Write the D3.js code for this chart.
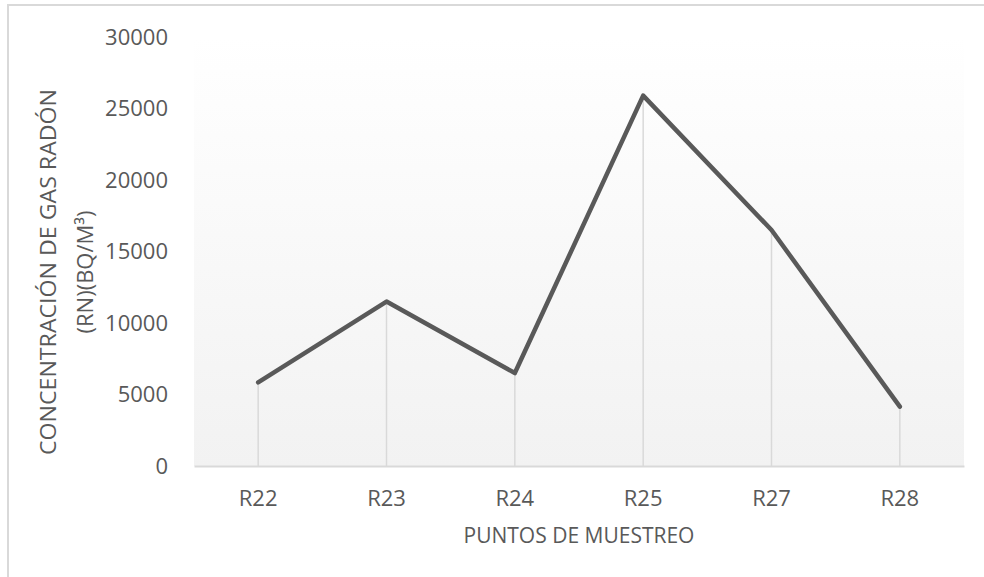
<!DOCTYPE html>
<html>
<head>
<meta charset="utf-8">
<script src="https://cdn.jsdelivr.net/npm/d3@7"></script>
<style>
  body { margin: 0; background: #fff; }
  svg { display: block; font-family: "Open Sans", sans-serif; }
</style>
</head>
<body>
<div id="chart"></div>
<script>
var categories = ['R22', 'R23', 'R24', 'R25', 'R27', 'R28'];
var values = [5850, 11500, 6500, 25900, 16500, 4150];
var yTicks = [0, 5000, 10000, 15000, 20000, 25000, 30000];

var width = 984, height = 577;
var margin = { left: 194, right: 20, top: 37, bottom: 111 };
var textColor = '#595959';

var svg = d3.select('#chart').append('svg')
  .attr('width', width)
  .attr('height', height);

// chart border (cropped on the right and bottom)
svg.append('rect')
  .attr('x', 8).attr('y', 5)
  .attr('width', 1000).attr('height', 600)
  .attr('fill', 'none')
  .attr('stroke', '#d9d9d9')
  .attr('stroke-width', 2);

var x = d3.scaleBand()
  .domain(categories)
  .range([margin.left, width - margin.right]);

var y = d3.scaleLinear()
  .domain([0, 30000])
  .range([height - margin.bottom, margin.top]);

var grad = svg.append('defs').append('linearGradient')
  .attr('id', 'plotbg')
  .attr('x1', 0).attr('y1', 0).attr('x2', 0).attr('y2', 1);
grad.append('stop').attr('offset', '0%').attr('stop-color', '#ffffff');
grad.append('stop').attr('offset', '100%').attr('stop-color', '#f2f2f2');

svg.append('rect')
  .attr('x', margin.left).attr('y', margin.top)
  .attr('width', width - margin.right - margin.left)
  .attr('height', y(0) - margin.top)
  .attr('fill', 'url(#plotbg)');

// drop lines
svg.selectAll('.drop')
  .data(values)
  .enter().append('line')
  .attr('x1', function(d, i) { return x(categories[i]) + x.bandwidth() / 2; })
  .attr('x2', function(d, i) { return x(categories[i]) + x.bandwidth() / 2; })
  .attr('y1', function(d) { return y(d); })
  .attr('y2', y(0))
  .attr('stroke', '#d9d9d9')
  .attr('stroke-width', 1.5);

// x axis
var xAxis = svg.append('g')
  .attr('transform', 'translate(0,' + y(0) + ')')
  .call(d3.axisBottom(x).tickSize(0).tickPadding(24));
xAxis.select('.domain').attr('stroke', '#d9d9d9').attr('stroke-width', 2);
xAxis.selectAll('text')
  .attr('fill', textColor)
  .style('font-size', '22px')
  .style('font-family', '"Open Sans", sans-serif');

// y axis
var yAxis = svg.append('g')
  .attr('transform', 'translate(' + margin.left + ',0)')
  .call(d3.axisLeft(y).tickValues(yTicks).tickSize(0).tickPadding(26)
    .tickFormat(d3.format('d')));
yAxis.select('.domain').remove();
yAxis.selectAll('text')
  .attr('fill', textColor)
  .style('font-size', '22px')
  .style('font-family', '"Open Sans", sans-serif');

// line
var line = d3.line()
  .x(function(d, i) { return x(categories[i]) + x.bandwidth() / 2; })
  .y(function(d) { return y(d); });

svg.append('path')
  .datum(values)
  .attr('d', line)
  .attr('fill', 'none')
  .attr('stroke', '#595959')
  .attr('stroke-width', 4.5)
  .attr('stroke-linejoin', 'round')
  .attr('stroke-linecap', 'round');

// axis titles
svg.append('text')
  .attr('x', (margin.left + width - margin.right) / 2)
  .attr('y', 543)
  .attr('text-anchor', 'middle')
  .attr('fill', textColor)
  .style('font-size', '21px')
  .text('PUNTOS DE MUESTREO');

var yTitle = svg.append('text')
  .attr('transform', 'translate(56,272) rotate(-90)')
  .attr('text-anchor', 'middle')
  .attr('fill', textColor)
  .style('font-size', '22px');
yTitle.append('tspan').attr('x', 0).attr('y', 0)
  .attr('textLength', 366).attr('lengthAdjust', 'spacingAndGlyphs')
  .text('CONCENTRACIÓN DE GAS RADÓN');
yTitle.append('tspan').attr('x', 0).attr('y', 37).text('(RN)(BQ/M³)');
</script>
</body>
</html>
